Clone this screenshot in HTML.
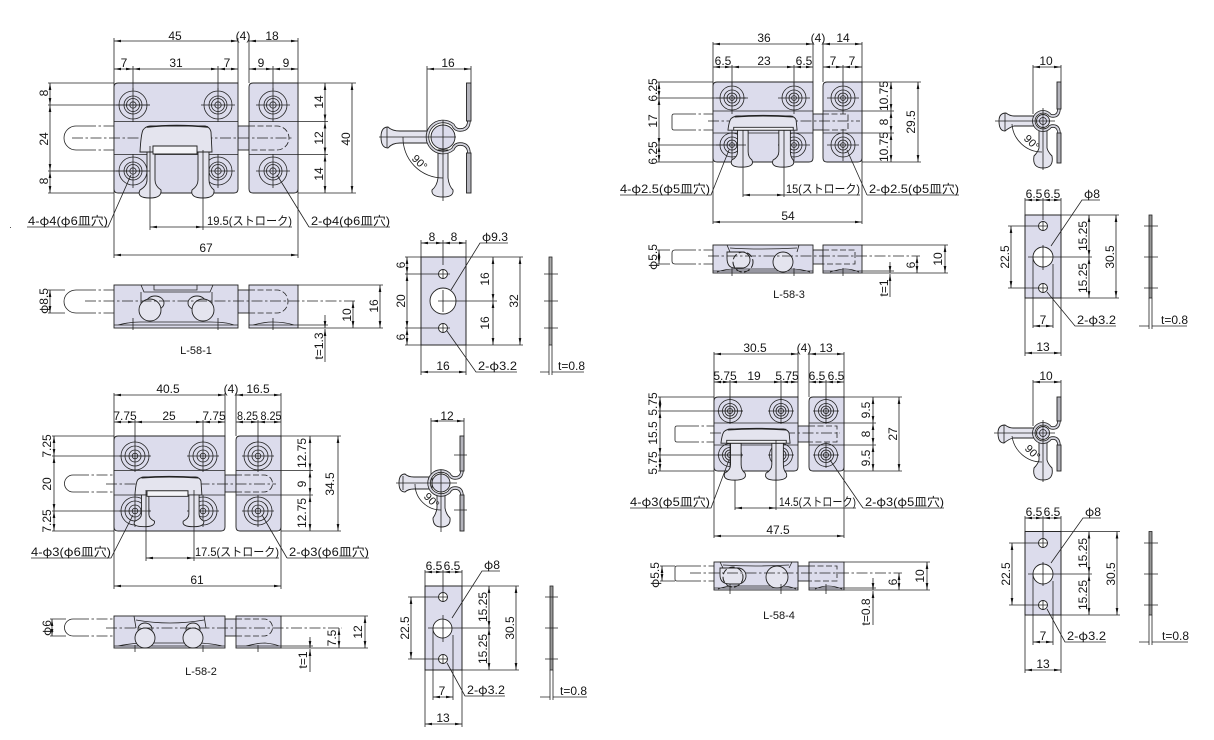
<!DOCTYPE html>
<html lang="ja"><head><meta charset="utf-8"><title>L-58</title>
<style>
html,body{margin:0;padding:0;background:#fff}
svg{display:block}
text{font-family:"Liberation Sans","Noto Sans CJK JP",sans-serif;font-size:12px;fill:#151515;text-anchor:middle}
.j{font-family:"Noto Sans CJK JP","Liberation Sans",sans-serif}
.s{font-size:11px}
.st{text-anchor:start}
.l,.d,.c,.h,.o{fill:none;stroke:#222;stroke-width:.8;vector-effect:non-scaling-stroke}
.d{marker-start:url(#a);marker-end:url(#a)}
.e{fill:none;stroke:#222;stroke-width:.8;marker-end:url(#a)}
.c{stroke-dasharray:11 2.5 2.5 2.5}
.h{stroke-dasharray:6 2.5}
.p{fill:#dcdcec;stroke:#222;stroke-width:.9}
.w{fill:#fff;stroke:#222;stroke-width:.9}
.k{fill:#e4e4ee;stroke:#222;stroke-width:.9;vector-effect:non-scaling-stroke}
.b1{fill:none;stroke:#222;stroke-width:3.4}
.b2{fill:none;stroke:#d6d6e0;stroke-width:1.8}
.f{fill:#b4b4bc;stroke:#222;stroke-width:.9}
</style></head><body>
<svg width="1214" height="740" viewBox="0 0 1214 740" xmlns="http://www.w3.org/2000/svg">
<defs>
<marker id="a" markerUnits="userSpaceOnUse" markerWidth="7" markerHeight="4" refX="7" refY="2" orient="auto-start-reverse"><path d="M0 .7L7 2L0 3.3Z" fill="#111"/></marker>
<g id="h1"><circle r="14" class="l"/><circle r="9" class="l"/><circle r="6.5" class="l"/><circle r="3.2" class="l"/><path class="l" d="M-17 0H17M0-17V17"/></g>
<g id="h2"><circle r="14" class="l"/><circle r="10" class="l"/><circle r="6" class="l"/><circle r="2.8" class="l"/><path class="l" d="M-16 0H16M0-16V16"/></g>
<g id="h3"><circle r="12" class="l"/><circle r="8" class="l"/><circle r="5" class="l"/><circle r="2.4" class="l"/><path class="l" d="M-16 0H16M0-16V16"/></g>
<g id="h4"><circle r="11.5" class="l"/><circle r="7.5" class="l"/><circle r="5" class="l"/><circle r="2.6" class="l"/><path class="l" d="M-13 0H13M0-13V13"/></g>
<g id="latch">
<path class="k" d="M147 150V180Q147 186 140 190Q136 198 150 198Q162 198 161 190Q155 186 155 180V150Z"/>
<path class="k" d="M198 150V180Q198 186 192 190Q190 198 203 198Q215 198 214 190Q209 186 209 180V150Z"/>
<path class="k" d="M140 152Q141 134 143 130Q146 126 151 126H205Q210 127 211 132L212 152H197V146H153V152Z"/>
<path class="o" style="stroke-width:1.6" d="M147 127Q176 124 208 127"/>
<rect class="k" x="153" y="146" width="44" height="8" style="fill:#f4f4f8"/>
</g>
<g id="latch2">
<path class="k" d="M150 146V176Q150 184 144 188Q141 198 154 198Q168 198 165 188Q161 184 161 176V146Z"/>
<path class="k" d="M193 146V176Q193 184 187 188Q184 198 197 198Q211 198 208 188Q205 184 205 176V146Z"/>
<path class="k" d="M140 146Q141 134 143 130Q146 126 151 126H205Q210 127 211 132L212 146Z"/>
<path class="o" style="stroke-width:1.6" d="M147 127Q176 124 208 127"/>
<rect class="k" x="146" y="142" width="62" height="4" style="fill:#f4f4f8"/>
</g>
</defs>
<rect width="1214" height="740" fill="#fff"/>
<rect x="10" y="227" width="1" height="1" fill="#555"/>

<!-- ============ L-58-1 ============ -->
<path class="l" d="M114 38V258M298 38V258M238 38V83M249 38V83"/>
<rect class="p" x="238" y="126" width="11" height="24"/>
<path class="p" d="M118 83H238V189Q238 193 234 193H118Q114 193 114 189V87Q114 83 118 83Z"/>
<path class="p" d="M253 83H298V189Q298 193 294 193H253Q249 193 249 189V87Q249 83 253 83Z"/>
<path class="l" d="M114 121.5H238M249 121.5H328M114 154.5H238M249 154.5H328"/>
<path class="o" d="M85 126H76A12 12 0 0 0 76 150H85"/><path class="c" d="M85 126H114M85 150H114"/>
<path class="h" d="M249 126H277A12 12 0 0 1 277 150H249"/>
<path class="c" d="M72 138H292"/>
<use href="#h1" x="133" y="105"/><use href="#h1" x="218" y="105"/><use href="#h1" x="273" y="105"/><use href="#h1" x="133" y="171"/><use href="#h1" x="218" y="171"/><use href="#h1" x="273" y="171"/>
<use href="#latch"/>
<path class="l" d="M133 66V90M218 66V90M273 66V90M48 83H114M48 193H114M48 105H150M48 171H150M298 83H356M298 193H356M150 146V230M203 150V230"/>
<path class="d" d="M114 41H238"/><path class="d" d="M249 41H298"/>
<path class="d" d="M114 69H133"/><path class="d" d="M133 69H218"/><path class="d" d="M218 69H238"/><path class="d" d="M249 69H273"/><path class="d" d="M273 69H298"/>
<path class="d" d="M50 83V105"/><path class="d" d="M50 105V171"/><path class="d" d="M50 171V193"/>
<path class="d" d="M325 83V121.5"/><path class="d" d="M325 121.5V154.5"/><path class="d" d="M325 154.5V193"/><path class="d" d="M352 83V193"/>
<path class="d" d="M114 255H298"/><path class="d" d="M150 227H203"/>
<text x="175" y="40">45</text><text x="243" y="40">(4)</text><text x="272" y="40">18</text>
<text x="124" y="67">7</text><text x="176" y="67">31</text><text x="227" y="67">7</text><text x="261" y="67">9</text><text x="286" y="67">9</text>
<text transform="translate(48,93) rotate(-90)">8</text><text transform="translate(48,139) rotate(-90)">24</text><text transform="translate(48,181) rotate(-90)">8</text>
<text transform="translate(323,102) rotate(-90)">14</text><text transform="translate(323,138) rotate(-90)">12</text><text transform="translate(323,174) rotate(-90)">14</text><text transform="translate(350,139) rotate(-90)">40</text>
<text x="206" y="252">67</text>
<path class="l" d="M27 227H108L131 175M203 227H292M309 227H390"/><path class="l" d="M309 227L277 175"/>
<text class="st" x="28" y="225" textLength="80" lengthAdjust="spacingAndGlyphs">4-<tspan class="j">φ</tspan>4(<tspan class="j">φ</tspan>6皿穴)</text>
<text class="st" x="207" y="225" textLength="85" lengthAdjust="spacingAndGlyphs">19.5(ストローク)</text>
<text class="st" x="311" y="225" textLength="79" lengthAdjust="spacingAndGlyphs">2-<tspan class="j">φ</tspan>4(<tspan class="j">φ</tspan>6皿穴)</text>
<!-- side -->
<rect class="p" x="238" y="290" width="11" height="23"/>
<rect class="p" x="114" y="285" width="124" height="43"/><rect class="p" x="249" y="285" width="49" height="43"/>
<path class="l" d="M118 325Q130 322 140 322H210Q226 322 234 325M253 325Q265 322 272 322Q285 322 294 325M114 325H238M249 325H328M298 285H383M298 328H383"/>
<path class="o" d="M141 285L144 292H210L213 285M154 285V290H197V285M141 292V310M212 292V310"/>
<path class="o" d="M85 290H76A12 11.5 0 0 0 76 313H85"/><path class="c" d="M85 290H114M85 313H114"/><path class="l" d="M48 290H65M48 313H65"/>
<path class="h" d="M249 290H277A11 11.5 0 0 1 277 313H249"/>
<ellipse class="k" cx="155" cy="303" rx="9" ry="7"/><ellipse class="k" cx="197" cy="303" rx="9" ry="7"/>
<circle class="k" cx="150" cy="310" r="11"/><circle class="k" cx="203" cy="310" r="11"/>
<path class="c" d="M85 301H355"/>
<path class="l" d="M133 318V330M218 318V330M273 318V330"/>
<path class="d" d="M50 290V313"/><path class="d" d="M380 285V328"/><path class="d" d="M353 301V328"/>
<path class="e" d="M325 315V328"/><path class="e" d="M325 362V329"/>
<text transform="translate(48,301) rotate(-90)"><tspan class="j">φ</tspan>8.5</text><text transform="translate(378,306) rotate(-90)">16</text><text transform="translate(351,315) rotate(-90)">10</text><text transform="translate(323,346) rotate(-90)">t=1.3</text>
<text class="s" x="196" y="354">L-58-1</text>
<!-- end view -->
<path class="l" d="M427 66V131M471 66V83"/><path class="d" d="M427 69H471"/><text x="448" y="67">16</text>
<path class="k" d="M400 131Q392 131 388 127Q381 127 381 137Q381 148 388 148Q392 143 400 143H428V131Z"/>
<path class="k" d="M438 150V178Q437 186 432 190Q431 197 443 197Q454 197 453 190Q449 186 448 178V150Z"/>
<path class="b1" d="M469 120Q469 130 460 130Q455 130 453 125A15.6 15.6 0 1 0 453 149Q455 144 460 144Q469 144 469 154"/>
<path class="b2" d="M469 120Q469 130 460 130Q455 130 453 125A15.6 15.6 0 1 0 453 149Q455 144 460 144Q469 144 469 154"/>
<rect class="f" x="466.5" y="83" width="4.5" height="38"/><rect class="f" x="466.5" y="153" width="4.5" height="40"/>
<circle cx="443" cy="137" r="12" class="p"/><path class="l" d="M379 137H456M443 120V201M387 127V148"/>
<path class="o" d="M403 137A40 40 0 0 0 443 178"/><text class="s" transform="translate(417,165) rotate(45)">90°</text>
<rect class="p" x="421" y="257" width="45" height="88"/>
<circle class="w" cx="443" cy="274" r="4.5"/><circle class="w" cx="443" cy="301" r="13"/><circle class="w" cx="443" cy="328" r="4.5"/>
<path class="l" d="M421 240V375M466 240V375M443 240V265M405 257H523M405 345H523M405 274H450M405 328H450M438 301H497M443 290V312M443 269V279M443 323V333"/>
<path class="d" d="M421 243H443"/><path class="d" d="M443 243H466"/><path class="d" d="M421 372H466"/>
<path class="d" d="M407 257V274"/><path class="d" d="M407 274V328"/><path class="d" d="M407 328V345"/><path class="d" d="M493 257V301"/><path class="d" d="M493 301V345"/><path class="d" d="M520 257V345"/>
<text x="432" y="241">8</text><text x="454" y="241">8</text><text x="443" y="370">16</text>
<text transform="translate(405,265) rotate(-90)">6</text><text transform="translate(405,301) rotate(-90)">20</text><text transform="translate(405,337) rotate(-90)">6</text>
<text transform="translate(489,279) rotate(-90)">16</text><text transform="translate(489,323) rotate(-90)">16</text><text transform="translate(518,301) rotate(-90)">32</text>
<path class="l" d="M508 243H480L451 290M517 372H476L447 331"/>
<text class="st" x="482" y="241" textLength="26" lengthAdjust="spacingAndGlyphs"><tspan class="j">φ</tspan>9.3</text><text class="st" x="478" y="370" textLength="39" lengthAdjust="spacingAndGlyphs">2-<tspan class="j">φ</tspan>3.2</text>
<rect x="549" y="257" width="3" height="88" fill="#aaa" stroke="#222" stroke-width=".8"/>
<path class="l" d="M544 274H558M544 301H558M544 328H558M549 345V375M552 345V375M552 372H584M540 372H549"/>
<text class="st" x="558" y="370">t=0.8</text>

<!-- ============ L-58-2 ============ -->
<path class="l" d="M114 393V589M281 393V589M225 393V436M236 393V436"/>
<rect class="p" x="225" y="475" width="11" height="17"/>
<path class="p" d="M118 436H225V527Q225 531 221 531H118Q114 531 114 527V440Q114 436 118 436Z"/>
<path class="p" d="M240 436H281V527Q281 531 277 531H240Q236 531 236 527V440Q236 436 240 436Z"/>
<path class="l" d="M114 470.5H225M236 470.5H313M114 495H225M236 495H313"/>
<path class="o" d="M78 475H73A8.5 8.5 0 0 0 73 492H78"/><path class="c" d="M78 475H114M78 492H114"/>
<path class="h" d="M236 475H264A8.5 8.5 0 0 1 264 492H236"/>
<path class="c" d="M106 484H276"/>
<use href="#h2" x="135" y="456"/><use href="#h2" x="203" y="456"/><use href="#h2" x="258" y="456"/><use href="#h2" x="135" y="511"/><use href="#h2" x="203" y="511"/><use href="#h2" x="258" y="511"/>
<use href="#latch" transform="translate(134,477) scale(.93,.69) translate(-139,-126)"/>
<path class="l" d="M135 420V442M203 420V442M258 420V442M52 436H114M52 531H114M52 456H150M52 511H150M281 436H341M281 531H341M146 490V561M194 490V561"/>
<path class="d" d="M114 395H225"/><path class="d" d="M236 395H281"/>
<path class="d" d="M114 422H135"/><path class="d" d="M135 422H203"/><path class="d" d="M203 422H225"/><path class="d" d="M236 422H258"/><path class="d" d="M258 422H281"/>
<path class="d" d="M54 436V456"/><path class="d" d="M54 456V511"/><path class="d" d="M54 511V531"/>
<path class="d" d="M310 436V470.5"/><path class="d" d="M310 470.5V495"/><path class="d" d="M310 495V531"/><path class="d" d="M338 436V531"/>
<path class="d" d="M114 586H281"/><path class="d" d="M146 558H194"/>
<text x="168" y="393">40.5</text><text x="231" y="393">(4)</text><text x="258" y="393">16.5</text>
<text x="125" y="420">7.75</text><text x="169" y="420">25</text><text x="214" y="420">7.75</text><text x="247.5" y="420" textLength="21" lengthAdjust="spacingAndGlyphs">8.25</text><text x="271" y="420" textLength="21" lengthAdjust="spacingAndGlyphs">8.25</text>
<text transform="translate(51,446) rotate(-90)">7.25</text><text transform="translate(51,484) rotate(-90)">20</text><text transform="translate(51,521) rotate(-90)">7.25</text>
<text transform="translate(306,453) rotate(-90)">12.75</text><text transform="translate(306,484) rotate(-90)">9</text><text transform="translate(306,513) rotate(-90)">12.75</text><text transform="translate(334,484) rotate(-90)">34.5</text>
<text x="197" y="584">61</text>
<path class="l" d="M31 558H111L133 515M194 558H279M287 558H369M287 558L262 515"/>
<text class="st" x="31" y="556" textLength="80" lengthAdjust="spacingAndGlyphs">4-<tspan class="j">φ</tspan>3(<tspan class="j">φ</tspan>6皿穴)</text>
<text class="st" x="195" y="556" textLength="84" lengthAdjust="spacingAndGlyphs">17.5(ストローク)</text>
<text class="st" x="289" y="556" textLength="80" lengthAdjust="spacingAndGlyphs">2-<tspan class="j">φ</tspan>3(<tspan class="j">φ</tspan>6皿穴)</text>
<!-- side -->
<rect class="p" x="225" y="619" width="11" height="17"/>
<rect class="p" x="114" y="616" width="111" height="32"/><rect class="p" x="236" y="616" width="45" height="32"/>
<path class="l" d="M118 646Q128 644 140 643H200Q215 644 222 646M246 646Q258 643 265 643Q275 644 279 646M281 616H368M281 648H368M114 646H225M236 646H313"/>
<path class="o" d="M134 616L136 628M204 616L206 628M136 620Q170 626 204 620"/>
<path class="o" d="M78 619H73A8.5 8.5 0 0 0 73 636H78"/><path class="c" d="M78 619H114M78 636H114"/><path class="l" d="M50 619H66M50 636H66"/>
<path class="h" d="M236 619H264A8.5 8.5 0 0 1 264 636H236"/>
<ellipse class="k" cx="145" cy="629" rx="7" ry="6"/><ellipse class="k" cx="193" cy="629" rx="7" ry="6"/>
<circle class="k" cx="145" cy="638" r="10"/><circle class="k" cx="193" cy="638" r="10"/>
<path class="c" d="M106 628H342"/>
<path class="l" d="M135 645V652M203 645V652M258 645V652"/>
<path class="d" d="M52 619V636"/><path class="d" d="M365 616V648"/><path class="d" d="M339 628V648"/>
<path class="e" d="M310 637V648"/><path class="e" d="M310 672V649"/>
<text transform="translate(51,628) rotate(-90)"><tspan class="j">φ</tspan>6</text><text transform="translate(362,632) rotate(-90)">12</text><text transform="translate(336,638) rotate(-90)">7.5</text><text transform="translate(307,660) rotate(-90)">t=1</text>
<text class="s" x="201" y="675">L-58-2</text>
<!-- end view -->
<path class="l" d="M431 418V476M464 418V436"/><path class="d" d="M431 421H464"/><text x="447" y="420">12</text>
<path class="k" d="M414 477Q408 477 405 474Q399 474 399 483Q399 492 405 492Q408 489 414 489H432V477Z"/>
<path class="k" d="M437 494V508Q436 514 433 518Q433 527 441 527Q451 527 450 518Q446 514 445 508V494Z"/>
<path class="b1" d="M462 470Q462 478 455 478Q451 478 449 474A12 12 0 1 0 449 492Q451 488 455 488Q462 488 462 496"/>
<path class="b2" d="M462 470Q462 478 455 478Q451 478 449 474A12 12 0 1 0 449 492Q451 488 455 488Q462 488 462 496"/>
<rect class="f" x="460" y="436" width="4" height="35"/><rect class="f" x="460" y="495" width="4" height="36"/>
<circle cx="441" cy="483" r="9" class="p"/><path class="l" d="M396 483H457M441 470V532M454 455H467M454 510H467M403 476V490"/>
<path class="o" d="M415 484A26 26 0 0 0 441 510"/><text class="s" transform="translate(429,503) rotate(45)">90°</text>
<rect class="p" x="425" y="586" width="37" height="84"/>
<path class="w" d="M433 628A9.5 9.5 0 1 1 443 638A9.5 9.5 0 0 1 433 628Z"/>
<circle class="w" cx="443" cy="597" r="4.5"/><circle class="w" cx="443" cy="659" r="4.5"/>
<path class="l" d="M425 570V727M462 570V727M443 570V592M433 628V700M453 635V700M408 597H448M408 659H448M425 586H519M425 670H519M428 628H491M443 615V642M443 592V602M443 654V664"/>
<path class="d" d="M425 572H443"/><path class="d" d="M443 572H462"/><path class="d" d="M411 597V659"/><path class="d" d="M489 586V628"/><path class="d" d="M489 628V670"/><path class="d" d="M516 586V670"/><path class="d" d="M433 697H453"/><path class="d" d="M425 724H462"/>
<text x="434" y="570">6.5</text><text x="452" y="570">6.5</text>
<text transform="translate(409,628) rotate(-90)">22.5</text><text transform="translate(487,607) rotate(-90)">15.25</text><text transform="translate(487,649) rotate(-90)">15.25</text><text transform="translate(514,628) rotate(-90)">30.5</text>
<text x="442" y="695">7</text><text x="443" y="722">13</text>
<path class="l" d="M500 571H482L452 618M505 696H465L447 663"/>
<text class="st" x="484" y="569" textLength="16" lengthAdjust="spacingAndGlyphs"><tspan class="j">φ</tspan>8</text><text class="st" x="467" y="694" textLength="38" lengthAdjust="spacingAndGlyphs">2-<tspan class="j">φ</tspan>3.2</text>
<rect x="550" y="586" width="3" height="84" fill="#999" stroke="#222" stroke-width=".8"/>
<path class="l" d="M545 597H558M545 628H558M545 659H558M550 670V700M553 670V700M553 697H587M540 697H550"/>
<text class="st" x="560" y="695">t=0.8</text>

<!-- ============ L-58-3 ============ -->
<path class="l" d="M713 42V224M862 42V224M813 42V82M823 42V82"/>
<rect class="p" x="813" y="114" width="10" height="16"/>
<path class="p" d="M717 82H813V158Q813 162 809 162H717Q713 162 713 158V86Q713 82 717 82Z"/>
<path class="p" d="M827 82H862V158Q862 162 858 162H827Q823 162 823 158V86Q823 82 827 82Z"/>
<path class="l" d="M713 111H813M823 111H894M713 133H813M823 133H894"/>
<path class="o" d="M685 114H674Q672 114 672 116V128Q672 130 674 130H685"/><path class="c" d="M685 114H713M685 130H713"/>
<path class="h" d="M823 114H848V130H823"/>
<path class="c" d="M708 121H860"/>
<use href="#h3" x="732" y="98"/><use href="#h3" x="794" y="98"/><use href="#h3" x="843" y="98"/><use href="#h3" x="732" y="145"/><use href="#h3" x="794" y="145"/><use href="#h3" x="843" y="145"/>
<use href="#latch2" transform="translate(727,116) scale(.96,.71) translate(-139,-126)"/>
<path class="l" d="M732 65V85M794 65V85M843 65V85M657 82H713M657 162H713M657 98H746M657 145H746M862 82H921M862 162H921M743 130V197M784 130V197"/>
<path class="d" d="M713 44H813"/><path class="d" d="M823 44H862"/>
<path class="d" d="M713 67H732"/><path class="d" d="M732 67H794"/><path class="d" d="M794 67H813"/><path class="d" d="M823 67H843"/><path class="d" d="M843 67H862"/>
<path class="d" d="M659 82V98"/><path class="d" d="M659 98V145"/><path class="d" d="M659 145V162"/>
<path class="d" d="M891 82V111"/><path class="d" d="M891 111V133"/><path class="d" d="M891 133V162"/><path class="d" d="M918 82V162"/>
<path class="d" d="M713 222H862"/><path class="d" d="M743 195H784"/>
<text x="764" y="42">36</text><text x="818" y="42">(4)</text><text x="843" y="42">14</text>
<text x="723" y="65">6.5</text><text x="764" y="65">23</text><text x="804" y="65">6.5</text><text x="833" y="65">7</text><text x="852" y="65">7</text>
<text transform="translate(657,90) rotate(-90)">6.25</text><text transform="translate(657,121) rotate(-90)">17</text><text transform="translate(657,153) rotate(-90)">6.25</text>
<text transform="translate(888,96) rotate(-90)">10.75</text><text transform="translate(888,122) rotate(-90)">8</text><text transform="translate(888,147) rotate(-90)">10.75</text><text transform="translate(915,122) rotate(-90)">29.5</text>
<text x="788" y="220">54</text>
<path class="l" d="M620 195H711L729 150M784 195H860M867 195H959M867 195L847 150"/>
<text class="st" x="620" y="193" textLength="90" lengthAdjust="spacingAndGlyphs">4-<tspan class="j">φ</tspan>2.5(<tspan class="j">φ</tspan>5皿穴)</text>
<text class="st" x="786" y="193" textLength="74" lengthAdjust="spacingAndGlyphs">15(ストローク)</text>
<text class="st" x="869" y="193" textLength="90" lengthAdjust="spacingAndGlyphs">2-<tspan class="j">φ</tspan>2.5(<tspan class="j">φ</tspan>5皿穴)</text>
<!-- side -->
<rect class="p" x="813" y="250" width="10" height="14"/>
<rect class="p" x="713" y="245" width="100" height="28"/><rect class="p" x="823" y="245" width="39" height="28"/>
<path class="l" d="M717 272Q725 269 735 269H790Q802 269 810 272M830 272Q840 269 845 269Q852 269 859 272M862 245H948M862 273H948M713 271H813M823 271H894"/>
<path class="o" d="M727 245L730 252M799 245L797 252M730 248Q760 250 797 248"/>
<path class="o" d="M685 250H675Q672 250 672 253V261Q672 264 675 264H685"/><path class="c" d="M685 250H713M685 264H713"/><path class="l" d="M657 250H670M657 264H670"/>
<path class="h" d="M823 250H855V264H823"/>
<path class="k" d="M727 252H742A8 8 0 0 1 742 268H735Q727 268 727 258Z"/>
<circle cx="743" cy="262" r="10" class="h" style="stroke-width:1"/><circle class="k" cx="783" cy="262" r="10"/>
<path class="c" d="M708 256H920"/>
<path class="l" d="M732 268V276M794 268V276M843 268V276"/>
<path class="d" d="M659 250V264"/><path class="d" d="M945 245V273"/><path class="d" d="M917 256V273"/>
<path class="e" d="M890 262V273"/><path class="e" d="M890 297V274"/>
<text transform="translate(657,257) rotate(-90)"><tspan class="j">φ</tspan>5.5</text><text transform="translate(942,259) rotate(-90)">10</text><text transform="translate(915,265) rotate(-90)">6</text><text transform="translate(888,288) rotate(-90)">t=1</text>
<text class="s" x="789" y="298">L-58-3</text>
<!-- end view -->
<path class="l" d="M1033 65V114M1061 65V82"/><path class="d" d="M1033 67H1061"/><text x="1046" y="65">10</text>
<path class="k" d="M1014 116Q1010 116 1006 113Q999 113 999 121Q999 131 1005 131Q1010 127 1014 126H1034V116Z"/>
<path class="k" d="M1039 130V148Q1038 152 1034 156Q1032 168 1043 168Q1054 168 1052 156Q1048 152 1047 148V130Z"/>
<path class="b1" d="M1059 108Q1059 116 1053 116Q1050 116 1049 114A9.2 9.2 0 1 0 1049 128Q1050 126 1053 126Q1059 126 1059 134"/>
<path class="b2" d="M1059 108Q1059 116 1053 116Q1050 116 1049 114A9.2 9.2 0 1 0 1049 128Q1050 126 1053 126Q1059 126 1059 134"/>
<rect class="f" x="1057" y="82" width="4" height="27"/><rect class="f" x="1057" y="133" width="4" height="30"/>
<circle cx="1043" cy="121" r="6.5" class="p"/><circle cx="1043" cy="121" r="3.5" class="l"/><path class="l" d="M995 121H1055M1043 108V170M1005 113V131"/>
<path class="o" d="M1012 124A30 30 0 0 0 1042 152"/><text class="s" transform="translate(1029,145) rotate(45)">90°</text>
<rect class="p" x="1025" y="215" width="36" height="83"/>
<path class="w" d="M1033 257A10 10 0 1 1 1043 267A10 10 0 0 1 1033 257Z"/>
<circle class="w" cx="1043" cy="226" r="4.5"/><circle class="w" cx="1043" cy="288" r="4.5"/>
<path class="l" d="M1025 198V356M1061 198V356M1043 198V220M1033 257V328M1053 264V328M1008 226H1048M1008 288H1048M1025 215H1119M1025 298H1119M1028 257H1092M1043 245V270M1043 221V231M1043 283V293"/>
<path class="d" d="M1025 200H1043"/><path class="d" d="M1043 200H1061"/><path class="d" d="M1011 226V288"/><path class="d" d="M1089 215V257"/><path class="d" d="M1089 257V298"/><path class="d" d="M1116 215V298"/><path class="d" d="M1033 326H1053"/><path class="d" d="M1025 353H1061"/>
<text x="1034" y="198">6.5</text><text x="1052" y="198">6.5</text>
<text transform="translate(1009,257) rotate(-90)">22.5</text><text transform="translate(1087,236) rotate(-90)">15.25</text><text transform="translate(1087,278) rotate(-90)">15.25</text><text transform="translate(1114,257) rotate(-90)">30.5</text>
<text x="1043" y="324">7</text><text x="1043" y="351">13</text>
<path class="l" d="M1100 200H1082L1051 246M1116 326H1075L1047 292"/>
<text class="st" x="1084" y="198" textLength="16" lengthAdjust="spacingAndGlyphs"><tspan class="j">φ</tspan>8</text><text class="st" x="1077" y="324" textLength="39" lengthAdjust="spacingAndGlyphs">2-<tspan class="j">φ</tspan>3.2</text>
<rect x="1149" y="215" width="3" height="83" fill="#999" stroke="#222" stroke-width=".8"/>
<path class="l" d="M1144 226H1158M1144 257H1158M1144 288H1158M1149 298V329M1152 298V329M1152 326H1187M1139 326H1149"/>
<text class="st" x="1161" y="324">t=0.8</text>

<!-- ============ L-58-4 ============ -->
<path class="l" d="M714 352V538M844 352V538M798 352V397M809 352V397"/>
<rect class="p" x="798" y="426" width="11" height="16"/>
<path class="p" d="M718 397H798V467Q798 471 794 471H718Q714 471 714 467V401Q714 397 718 397Z"/>
<path class="p" d="M813 397H844V467Q844 471 840 471H813Q809 471 809 467V401Q809 397 813 397Z"/>
<path class="l" d="M714 423H798M809 423H876M714 445H798M809 445H876"/>
<path class="o" d="M688 426H677Q675 426 675 428V440Q675 442 677 442H688"/><path class="c" d="M688 426H714M688 442H714"/>
<path class="h" d="M809 426H837V442H809"/>
<path class="c" d="M710 433H840"/>
<use href="#h4" x="730" y="411"/><use href="#h4" x="781" y="411"/><use href="#h4" x="826" y="411"/><use href="#h4" x="730" y="455"/><use href="#h4" x="781" y="455"/><use href="#h4" x="826" y="455"/>
<use href="#latch2" transform="translate(720,429) scale(.96,.71) translate(-139,-126)"/>
<path class="l" d="M730 380V400M781 380V400M826 380V400M658 397H714M658 471H714M658 411H743M658 455H743M844 397H902M844 471H902M735 480V510M776 440V510"/>
<path class="d" d="M714 354H798"/><path class="d" d="M809 354H844"/>
<path class="d" d="M714 382H730"/><path class="d" d="M730 382H781"/><path class="d" d="M781 382H798"/><path class="d" d="M809 382H826"/><path class="d" d="M826 382H844"/>
<path class="d" d="M660 397V411"/><path class="d" d="M660 411V455"/><path class="d" d="M660 455V471"/>
<path class="d" d="M873 397V423"/><path class="d" d="M873 423V445"/><path class="d" d="M873 445V471"/><path class="d" d="M899 397V471"/>
<path class="d" d="M714 536H844"/><path class="d" d="M735 508H776"/>
<text x="755" y="352">30.5</text><text x="804" y="352">(4)</text><text x="826" y="352">13</text>
<text x="725" y="380">5.75</text><text x="754" y="380">19</text><text x="787" y="380">5.75</text><text x="817" y="380">6.5</text><text x="836" y="380">6.5</text>
<text transform="translate(657,404) rotate(-90)">5.75</text><text transform="translate(657,433) rotate(-90)">15.5</text><text transform="translate(657,463) rotate(-90)">5.75</text>
<text transform="translate(870,410) rotate(-90)">9.5</text><text transform="translate(870,434) rotate(-90)">8</text><text transform="translate(870,458) rotate(-90)">9.5</text><text transform="translate(897,434) rotate(-90)">27</text>
<text x="778" y="534">47.5</text>
<path class="l" d="M630 508H711L729 460M776 508H856M863 508H944M863 508L830 460"/>
<text class="st" x="630" y="506" textLength="80" lengthAdjust="spacingAndGlyphs">4-<tspan class="j">φ</tspan>3(<tspan class="j">φ</tspan>5皿穴)</text>
<text class="st" x="779" y="506" textLength="77" lengthAdjust="spacingAndGlyphs">14.5(ストローク)</text>
<text class="st" x="865" y="506" textLength="79" lengthAdjust="spacingAndGlyphs">2-<tspan class="j">φ</tspan>3(<tspan class="j">φ</tspan>5皿穴)</text>
<!-- side -->
<rect class="p" x="798" y="566" width="11" height="15"/>
<rect class="p" x="714" y="562" width="84" height="28"/><rect class="p" x="809" y="562" width="35" height="28"/>
<path class="l" d="M718 589Q725 586 735 586H780Q790 586 796 589M815 589Q822 586 828 586Q835 586 842 589M844 562H930M844 590H930M714 588H798M809 588H876"/>
<path class="o" d="M720 562L723 568M792 562L789 568M723 565Q755 567 789 565"/>
<path class="o" d="M690 566H677Q675 566 675 568V579Q675 581 677 581H690"/><path class="c" d="M690 566H714M690 581H714"/><path class="l" d="M660 566H675M660 581H675"/>
<path class="h" d="M809 566H837V581H809"/>
<path class="k" d="M720 568H738A8 8 0 0 1 738 584H730Q720 584 720 575Z"/>
<circle cx="733" cy="577" r="10" class="h" style="stroke-width:1"/><circle class="k" cx="777" cy="577" r="11"/>
<path class="c" d="M690 573H902"/>
<path class="l" d="M730 584V594M781 584V594M826 584V594"/>
<path class="d" d="M662 566V581"/><path class="d" d="M927 562V590"/><path class="d" d="M899 573V590"/>
<path class="e" d="M873 578V590"/><path class="e" d="M873 625V591"/>
<text transform="translate(659,575) rotate(-90)"><tspan class="j">φ</tspan>5.5</text><text transform="translate(924,576) rotate(-90)">10</text><text transform="translate(897,582) rotate(-90)">6</text><text transform="translate(870,612) rotate(-90)">t=0.8</text>
<text class="s" x="779" y="619">L-58-4</text>
<!-- end view -->
<path class="l" d="M1033 380V426M1061 380V397"/><path class="d" d="M1033 382H1061"/><text x="1046" y="380">10</text>
<path class="k" d="M1013 428Q1009 428 1005 425Q998 425 998 433Q998 443 1004 443Q1009 439 1013 438H1034V428Z"/>
<path class="k" d="M1039 442V460Q1038 464 1034 468Q1032 480 1043 480Q1054 480 1052 468Q1048 464 1047 460V442Z"/>
<path class="b1" d="M1059 420Q1059 428 1053 428Q1050 428 1049 426A9.2 9.2 0 1 0 1049 440Q1050 438 1053 438Q1059 438 1059 446"/>
<path class="b2" d="M1059 420Q1059 428 1053 428Q1050 428 1049 426A9.2 9.2 0 1 0 1049 440Q1050 438 1053 438Q1059 438 1059 446"/>
<rect class="f" x="1057" y="397" width="4" height="24"/><rect class="f" x="1057" y="445" width="4" height="26"/>
<circle cx="1043" cy="433" r="6.5" class="p"/><circle cx="1043" cy="433" r="3.5" class="l"/><path class="l" d="M994 433H1055M1043 420V482M1004 425V443"/>
<path class="o" d="M1012 436A30 30 0 0 0 1042 462"/><text class="s" transform="translate(1030,455) rotate(45)">90°</text>
<rect class="p" x="1025" y="531.5" width="36" height="83.5"/>
<path class="w" d="M1033 574A10 10 0 1 1 1043 584A10 10 0 0 1 1033 574Z"/>
<circle class="w" cx="1043" cy="543" r="4.5"/><circle class="w" cx="1043" cy="605" r="4.5"/>
<path class="l" d="M1025 516V673M1061 516V673M1043 516V538M1033 574V645M1053 581V645M1009 543H1048M1009 605H1048M1025 531.5H1120M1025 615H1120M1028 574H1092M1043 562V586M1043 538V548M1043 600V610"/>
<path class="d" d="M1025 518H1043"/><path class="d" d="M1043 518H1061"/><path class="d" d="M1012 543V605"/><path class="d" d="M1089 531.5V574"/><path class="d" d="M1089 574V615"/><path class="d" d="M1117 531.5V615"/><path class="d" d="M1033 642H1053"/><path class="d" d="M1025 670H1061"/>
<text x="1034" y="516">6.5</text><text x="1052" y="516">6.5</text>
<text transform="translate(1010,574) rotate(-90)">22.5</text><text transform="translate(1087,553) rotate(-90)">15.25</text><text transform="translate(1087,595) rotate(-90)">15.25</text><text transform="translate(1115,574) rotate(-90)">30.5</text>
<text x="1043" y="640">7</text><text x="1043" y="668">13</text>
<path class="l" d="M1101 518H1083L1051 563M1106 642H1065L1047 609"/>
<text class="st" x="1085" y="516" textLength="16" lengthAdjust="spacingAndGlyphs"><tspan class="j">φ</tspan>8</text><text class="st" x="1067" y="640" textLength="39" lengthAdjust="spacingAndGlyphs">2-<tspan class="j">φ</tspan>3.2</text>
<rect x="1149" y="531.5" width="3" height="83.5" fill="#999" stroke="#222" stroke-width=".8"/>
<path class="l" d="M1144 543H1158M1144 574H1158M1144 605H1158M1149 615V645M1152 615V645M1152 642H1188M1139 642H1149"/>
<text class="st" x="1162" y="640">t=0.8</text>
</svg>
</body></html>
